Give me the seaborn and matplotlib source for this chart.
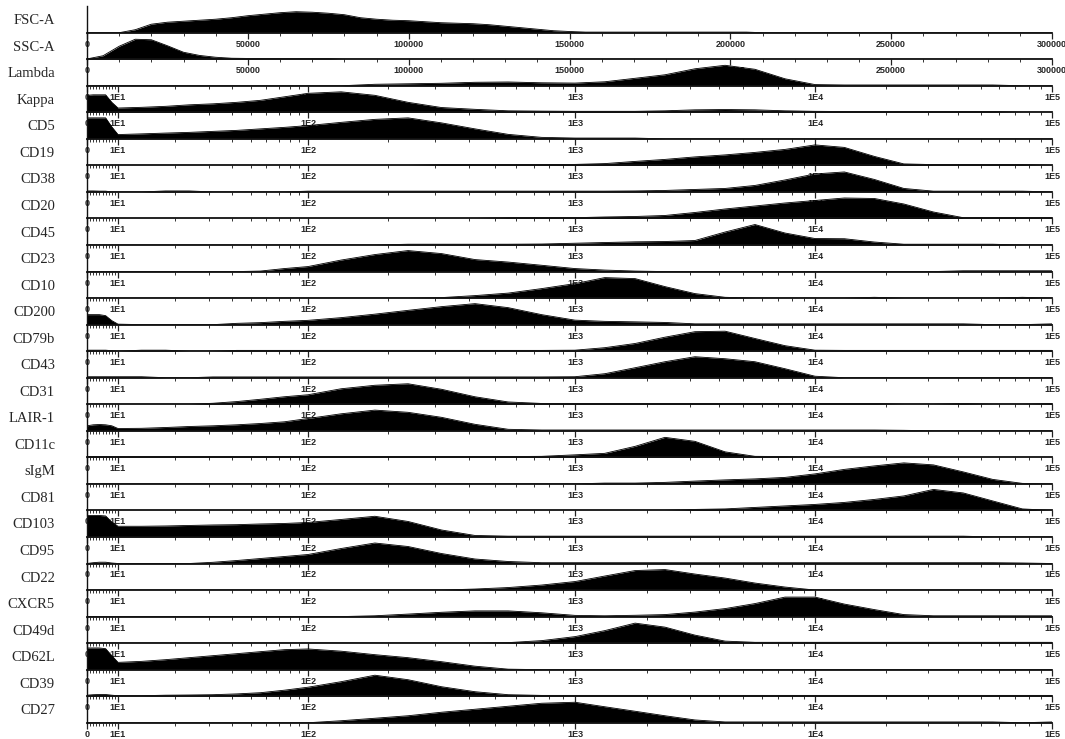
import numpy as np
import matplotlib
matplotlib.use("Agg")
import matplotlib.pyplot as plt
import seaborn as sns

# --- Data: relative event counts per channel bin ---
MARKERS = ['FSC-A', 'SSC-A', 'Lambda', 'Kappa', 'CD5', 'CD19', 'CD38', 'CD20', 'CD45',
           'CD23', 'CD10', 'CD200', 'CD79b', 'CD43', 'CD31', 'LAIR-1', 'CD11c', 'sIgM',
           'CD81', 'CD103', 'CD95', 'CD22', 'CXCR5', 'CD49d', 'CD62L', 'CD39', 'CD27']

# scatter channels, linear bins (x 1000)
LIN_BINS_K = [0, 5, 10, 15, 20, 25, 30, 35, 40, 45, 50, 55, 60, 65, 70, 75, 80, 85, 90, 95,
              100, 105, 110, 115, 120, 125, 130, 135, 140, 145, 150, 155, 160, 165, 170, 175,
              180, 185, 190, 195, 200, 205, 210, 215, 220, 225, 230, 235, 240, 245, 250, 255,
              260, 265, 270, 275, 280, 285, 290, 295, 300]
LIN_TICKS = [0, 50000, 100000, 150000, 200000, 250000, 300000]
LIN_LABELS = ['0', '50000', '100000', '150000', '200000', '250000', '300000']

# fluorescence channels, log bins
LOG_BINS = [0, 2, 4, 6, 8, 10, 13.3, 17.8, 23.7, 31.6, 42.2, 56.2, 75, 100, 133, 178, 237,
            316, 422, 562, 750, 1000, 1330, 1780, 2370, 3160, 4220, 5620, 7500, 10000,
            13300, 17800, 23700, 31600, 42200, 56200, 75000, 100000]
LOG_TICKS = [0, 10, 100, 1000, 10000, 100000]
LOG_LABELS = ['0', '1E1', '1E2', '1E3', '1E4', '1E5']

fsc_a = [0, 0, 0, 3, 8.5, 10.5, 11.5, 12.5, 13.5, 15, 17, 18.5, 20, 21, 20.5, 19.5, 18, 15,
         13.5, 12.5, 12, 11, 10, 9.5, 9, 8, 6.5, 5, 3.5, 2, 1.2, 0.6, 0.6, 0.6, 0.6, 0.6,
         0.6, 0.6, 0.6, 0.6, 0.6, 0.6, 0, 0, 0, 0, 0, 0, 0, 0, 0, 0, 0, 0, 0, 0, 0, 0, 0, 0, 0]
ssc_a = [0.3, 3.5, 13, 20, 19.5, 13.5, 7, 3.8, 2, 1, 0.8, 0.6, 0.6, 0.6, 0.6, 0.6, 0, 0, 0, 0,
         0, 0, 0, 0, 0, 0, 0, 0, 0, 0, 0, 0, 0, 0, 0, 0, 0, 0, 0, 0, 0, 0, 0, 0, 0, 0, 0, 0,
         0, 0, 0, 0, 0, 0, 0, 0, 0, 0, 0, 0, 0]

lambda_ = [0, 0, 0, 0, 0, 0, 0, 0, 0, 0, 0, 0, 0, 0, 0, 1.5, 2, 2.5, 3.5, 3.8, 3, 2.7, 4, 7.5,
           11, 17, 20.5, 16.5, 7, 1.2, 0.8, 0.8, 0.8, 0.8, 0.8, 0.8, 0, 0]
kappa = [17, 17.5, 17.5, 17.5, 10, 4.3, 5, 6, 7.5, 8.5, 10, 12, 15.5, 19, 20.5, 17, 10, 4.8,
         3, 1.5, 1.2, 1, 1, 1, 1.5, 2.5, 2.8, 2.5, 1.5, 1, 0.8, 0.8, 0.8, 0.8, 0.8, 0.8, 0, 0]
cd5 = [21, 21, 21, 21, 12, 4.3, 5, 5.8, 6.5, 7.5, 8.5, 10, 11.5, 13.3, 16.5, 19.5, 21, 16, 10,
       4.5, 1.5, 0.8, 0.8, 0.8, 0, 0, 0, 0, 0, 0, 0, 0, 0, 0, 0, 0, 0, 0]
cd19 = [0, 0, 0, 0, 0, 0, 0, 0, 0, 0, 0, 0, 0, 0, 0, 0, 0, 0.8, 0.8, 0.8, 0.8, 1, 1.8, 4, 6,
        8.5, 10.5, 13, 16, 20.5, 18, 9, 1.5, 0.8, 0.8, 0.8, 0.8, 0]
cd38 = [1, 1, 0.8, 0.8, 0, 0, 0, 1, 1, 0, 0, 0, 0, 0.8, 0.8, 0.8, 0.8, 0.8, 0.8, 0.8, 0.8,
        0.8, 0.8, 1, 1.5, 2.5, 3.5, 6.5, 12, 18, 20, 12.5, 3.5, 0.8, 0.8, 0.8, 0.8, 0]
cd20 = [0, 0, 0, 0, 0, 0, 0, 0, 0, 0, 0, 0, 0, 0, 0, 0, 0, 0, 0, 0.8, 0.8, 0.8, 1.5, 2, 3, 6,
        9.5, 12.5, 15.5, 18, 20.5, 20, 14.5, 6.5, 0.8, 0.8, 0.8, 0.8]
cd45 = [0, 0, 0, 0, 0, 0, 0, 0, 0, 0, 0, 0, 0, 0, 0, 0, 0.8, 0.8, 0.8, 0.8, 1, 1.8, 2.5, 3.2,
        3.5, 4.5, 13, 20.5, 12, 6.5, 6.3, 3, 0.8, 0.8, 0.8, 0.8, 0, 0]
cd23 = [0, 0, 0, 0, 0, 0, 0, 0, 0, 0, 0, 0.5, 3, 5, 11.5, 17, 21, 18, 12, 9.5, 6.3, 3, 1.5,
        0.5, 0, 0, 0, 0, 0, 0, 0, 0, 0, 0, 0.8, 0.8, 0.8, 0.8]
cd10 = [0, 0, 0, 0, 0, 0, 0, 0, 0, 0, 0, 0, 0, 0, 0, 0, 0, 0.5, 2.5, 5, 9.5, 14.5, 20.5, 19.5,
        11.5, 4.5, 0.8, 0, 0, 0, 0, 0.8, 0, 0, 0, 0, 0.8, 0]
cd200 = [10, 10, 10, 9, 4, 0.5, 0, 0, 0, 0, 1.3, 2, 3.3, 4.3, 7, 10.5, 14.3, 18, 21, 17, 10,
         4.5, 3.3, 2.8, 2.2, 0.8, 0.8, 0.8, 0.8, 0.8, 0.8, 0.8, 0.8, 0.8, 0.8, 0, 0, 0.8]
cd79b = [1, 1, 1, 1, 0.5, 0, 1, 1, 0, 0, 0.8, 0.8, 0.8, 0.8, 0.8, 0.8, 0.8, 0.8, 0.8, 0.8,
         0.8, 1, 3.5, 7.7, 14, 19.5, 20, 12.7, 5.5, 1, 0.8, 0.8, 0.8, 0.8, 0.8, 0.8, 0.8, 0.8]
cd43 = [1, 1, 1, 1, 1, 1, 1, 0, 0, 0.8, 0.8, 0.8, 0.8, 0.8, 0.8, 0.8, 0.8, 0.8, 0.8, 0.8,
        0.8, 1, 4, 10, 16, 21, 19, 16, 9, 1.5, 0, 0, 0, 0, 0, 0, 0, 0]
cd31 = [0, 0, 0, 0, 0, 0, 0, 0, 0, 1, 2.7, 5, 7.5, 9.5, 15.5, 19, 20.5, 15, 7.5, 2.3, 0.8,
        0.8, 0.8, 0.8, 0.8, 0.8, 0.8, 0.8, 0.8, 0.8, 0.8, 0.8, 0, 0, 0.8, 0, 0, 0.8]
lair_1 = [5, 6, 6.3, 6, 5, 2.3, 2.5, 3.3, 4.3, 5, 6, 7.3, 9, 12.3, 17, 20.7, 18.5, 13.5, 6.5,
          1.5, 0.8, 0.8, 0.8, 0.8, 0.8, 0.8, 0.8, 0.8, 0.8, 0.8, 0.8, 0.8, 0.5, 0, 0, 0, 0, 0]
cd11c = [0.8, 0.8, 0.8, 0.8, 0.8, 0.8, 0.8, 0.8, 0.8, 0.8, 0.8, 0.8, 0.8, 0.8, 0.8, 0.8, 0.8,
         0.8, 0.8, 0.8, 1, 2.5, 4, 11, 20, 16, 5.5, 1, 0.8, 0, 0, 0, 0, 0, 0, 0, 0, 0]
sigm = [0, 0, 0, 0, 0, 0, 0, 0, 0, 0, 0, 0, 0, 0, 0, 0, 0, 0, 0, 0, 0, 0, 0.8, 0.8, 1.5, 2.8,
        4, 5, 6.5, 10, 14.5, 18, 21, 19, 12, 4.5, 0.5, 0]
cd81 = [0, 0, 0, 0, 0, 0, 0, 0, 0, 0, 0, 0, 0, 0, 0, 0, 0, 0, 0, 0, 0, 0, 0, 0, 0, 1, 1.5, 3,
        4.5, 6, 8, 11, 14.5, 21, 17.5, 9.5, 1.5, 0]
cd103 = [21.5, 21.5, 21.5, 21, 15, 10.7, 10.7, 11, 11.5, 12, 12.3, 13, 13.5, 14.5, 17.5, 20.7,
         15.5, 7, 1.5, 0.8, 0.8, 0.8, 0.8, 0.8, 0.8, 0.8, 0.8, 0.8, 0.8, 0.8, 0.8, 0.8, 0.8,
         0.8, 0.8, 0, 0, 0]
cd95 = [0, 0.8, 1.3, 1.3, 0.5, 0, 0, 0, 0, 1.2, 3, 5, 7, 9, 15, 20.5, 17, 10, 4.5, 2, 0.8,
        0.8, 0.8, 0.8, 0.8, 0.8, 0.8, 0.8, 0.8, 0.8, 0.8, 0.8, 0.8, 0.8, 0.8, 0.8, 0.5, 0]
cd22 = [0, 0, 0, 0, 0, 0, 0, 0, 0, 0, 0, 0, 0, 0, 0, 0, 0, 0, 1, 2.5, 5, 8.5, 14, 19.5, 20.5,
        16, 12, 7, 3, 0, 0, 0, 0, 0, 0, 0, 0, 0]
cxcr5 = [0, 0, 0, 0, 0, 0, 0, 0, 0, 0, 0, 0, 0, 0, 0, 0.8, 2.5, 4.3, 5.7, 5.7, 3.8, 1.2, 0.8,
         1.3, 2, 4.5, 8, 13, 19.5, 19.5, 12.5, 7, 2, 0.8, 0.8, 0.8, 0.8, 0.8]
cd49d = [0, 0, 0, 0, 0, 0, 0, 0, 0, 0, 0, 0, 0, 0, 0, 0, 0, 0, 0, 0.5, 2.5, 6.5, 12.5, 20, 16,
         8, 2, 0.8, 0.8, 0.8, 0.8, 0.8, 0.8, 0.8, 0.8, 0.8, 0.8, 0.8]
cd62l = [21.7, 21.7, 21.7, 21, 14, 7.3, 8.3, 10, 12, 14, 16, 18, 20, 20.7, 18.5, 15, 12, 8,
         3.5, 0.5, 0, 0, 0, 0, 0, 0, 0, 0, 0, 0, 0, 0, 0, 0, 0, 0, 0, 0]
cd39 = [1, 1.5, 1.7, 1.7, 1, 0.5, 0.5, 1, 1.2, 1.5, 2.3, 3.5, 6, 9, 14.5, 21, 16.5, 9.5, 4.5,
        1.5, 0.8, 0.8, 0.8, 0.8, 0.8, 0.8, 0.8, 0.8, 0.8, 0.8, 0.8, 0.8, 0.8, 0.8, 0.8, 0.8,
        0.8, 0.8]
cd27 = [0, 0, 0, 0, 0, 0, 0, 0, 0, 0, 0, 0, 0, 0, 2, 4.5, 7, 10.5, 13.5, 16.5, 19.5, 20.5, 16,
        11.5, 7, 2.8, 0.8, 0.8, 0.8, 0.8, 0.8, 0.8, 0.8, 0.8, 0.8, 0.8, 0, 0.8]

series = [fsc_a, ssc_a, lambda_, kappa, cd5, cd19, cd38, cd20, cd45, cd23, cd10, cd200,
          cd79b, cd43, cd31, lair_1, cd11c, sigm, cd81, cd103, cd95, cd22, cxcr5, cd49d,
          cd62l, cd39, cd27]
lin_bins = [k * 1000 for k in LIN_BINS_K]

# --- Display scale: linear 0..10, then one log decade per segment ---
DEC_POS = [31, 221, 488, 728, 965]   # offsets of 1E1..1E5 on the plotting width


def fwd(x):
    x = np.asarray(x, dtype=float)
    lg = np.interp(np.log10(np.maximum(x, 10)), [1, 2, 3, 4, 5], DEC_POS)
    return np.where(x < 10, x * 3.1, lg)


def inv(p):
    p = np.asarray(p, dtype=float)
    lg = 10 ** np.interp(p, DEC_POS, [1, 2, 3, 4, 5])
    return np.where(p < 31, p / 3.1, lg)


log_minor = [1, 2, 3, 4, 5, 6, 7, 8, 9] + [m * 10 ** d for d in range(1, 5) for m in range(2, 10)]

sns.set_style('white')
plt.rcParams['font.family'] = ['Liberation Sans', 'DejaVu Sans']

W, H = 1065, 739
fig = plt.figure(figsize=(W / 100, H / 100), dpi=100)

x0, x1 = 87, 1052
base0, step = 32.7, 26.54

for i, (name, vals) in enumerate(zip(MARKERS, series)):
    base = base0 + i * step
    ax = fig.add_axes([x0 / W, 1 - base / H, (x1 - x0) / W, step / H])
    ax.patch.set_alpha(0)
    linear = i < 2
    bins = lin_bins if linear else LOG_BINS
    if not linear:
        ax.set_xscale('function', functions=(fwd, inv))

    ax.fill_between(bins, vals, 0, color='black', lw=0)
    sns.lineplot(x=bins, y=vals, ax=ax, color='black', lw=0.6)

    if linear:
        ax.set_xlim(0, 300000)
        ax.set_xticks(LIN_TICKS, LIN_LABELS)
        ax.set_xticks(list(range(0, 300001, 10000)), minor=True)
    else:
        ax.set_xlim(0, 100000)
        ax.set_xticks(LOG_TICKS, LOG_LABELS)
        ax.set_xticks(log_minor, minor=True)
    ax.set_ylim(0, step)
    ax.set_yticks([])
    ax.set_xlabel('')
    ax.set_ylabel('')

    for side in ('top', 'right'):
        ax.spines[side].set_visible(False)
    ax.spines['bottom'].set_linewidth(1.3)
    ax.spines['left'].set_linewidth(1.0)
    ax.spines['bottom'].set_color('#111111')
    ax.spines['left'].set_color('#111111')

    ax.tick_params(axis='x', which='both', bottom=True, top=False)
    ax.tick_params(axis='x', which='major', direction='out', length=4, width=0.9,
                   color='#222222', labelsize=6.5, pad=1.0)
    ax.tick_params(axis='x', which='minor', direction='out', length=2.5, width=0.7,
                   color='#333333')
    for lab in ax.get_xticklabels():
        lab.set_fontweight('bold')

    fig.text(55 / W, 1 - (base - 12) / H, name, ha='right', va='center',
             fontsize=10.5, family=['Liberation Serif', 'DejaVu Serif'])

fig.savefig('out.png', dpi=100)
